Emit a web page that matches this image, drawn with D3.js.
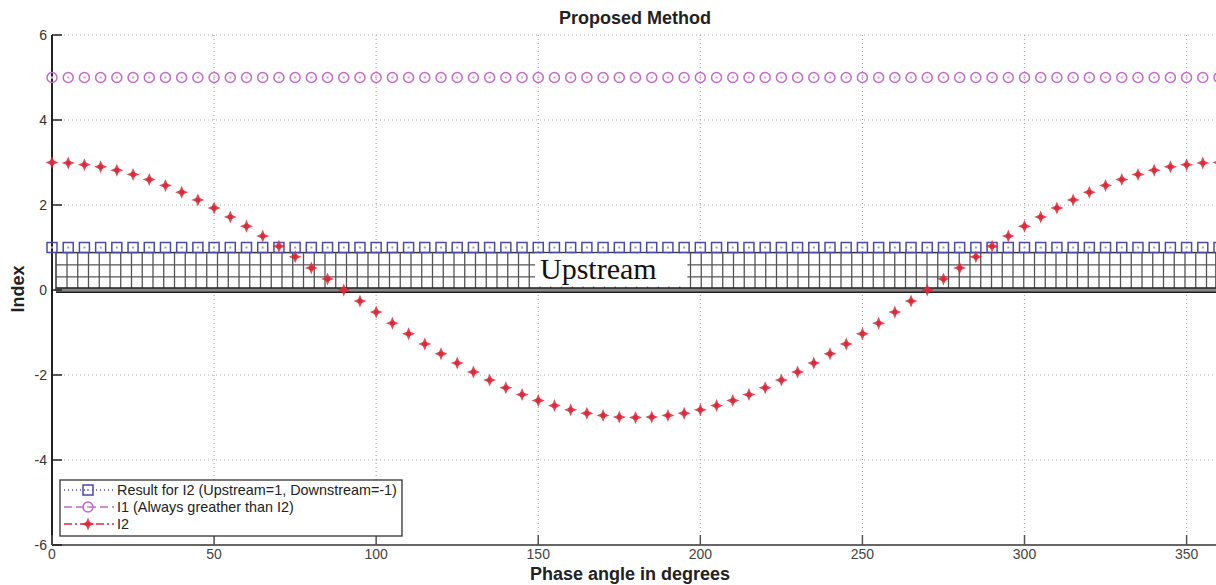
<!DOCTYPE html>
<html>
<head>
<meta charset="utf-8">
<script src="https://cdn.jsdelivr.net/npm/d3@7"></script>
<style>
  body { margin: 0; background: #fff; }
  text { font-family: Arial, "Liberation Sans", sans-serif; }
</style>
</head>
<body>
<script>
// phase angles (degrees)
var angles = [0,5,10,15,20,25,30,35,40,45,50,55,60,65,70,75,80,85,90,95,100,105,110,115,120,125,130,135,140,145,150,155,160,165,170,175,180,
  185,190,195,200,205,210,215,220,225,230,235,240,245,250,255,260,265,270,275,280,285,290,295,300,305,310,315,320,325,330,335,340,345,350,355,360]

// I2
var i2 = [3.00,2.99,2.95,2.90,2.82,2.72,2.60,2.46,2.30,2.12,1.93,1.72,1.50,1.27,1.03,0.78,0.52,0.26,0.00,-0.26,-0.52,-0.78,-1.03,-1.27,-1.50,-1.72,-1.93,-2.12,-2.30,-2.46,-2.60,-2.72,-2.82,-2.90,-2.95,-2.99,-3.00,
  -2.99,-2.95,-2.90,-2.82,-2.72,-2.60,-2.46,-2.30,-2.12,-1.93,-1.72,-1.50,-1.27,-1.03,-0.78,-0.52,-0.26,0.00,0.26,0.52,0.78,1.03,1.27,1.50,1.72,1.93,2.12,2.30,2.46,2.60,2.72,2.82,2.90,2.95,2.99,3.00]

// I1 (magenta circles) and result (blue squares)
var i1 = [5,5,5,5,5,5,5,5,5,5,5,5,5,5,5,5,5,5,5,5,5,5,5,5,5,5,5,5,5,5,5,5,5,5,5,5,5,
  5,5,5,5,5,5,5,5,5,5,5,5,5,5,5,5,5,5,5,5,5,5,5,5,5,5,5,5,5,5,5,5,5,5,5,5,5]
var result = [1,1,1,1,1,1,1,1,1,1,1,1,1,1,1,1,1,1,1,1,1,1,1,1,1,1,1,1,1,1,1,1,1,1,1,1,1,
  1,1,1,1,1,1,1,1,1,1,1,1,1,1,1,1,1,1,1,1,1,1,1,1,1,1,1,1,1,1,1,1,1,1,1,1,1]

var xTicks = [0,50,100,150,200,250,300,350]
var yTicks = [-6,-4,-2,0,2,4,6]
var legendLabels = ['Result for I2 (Upstream=1, Downstream=-1)', 'I1 (Always greather than I2)', 'I2']

var colors = { result: '#4b4ba3', i1: '#c46ac8', i2: '#dd2a3a' }

var svg = d3.select('body').append('svg')
    .attr('width', 1216).attr('height', 585)

var x = d3.scaleLinear().domain([0, 360]).range([52, 1219])
var y = d3.scaleLinear().domain([-6, 6]).range([545, 35])

// dotted grid
svg.append('g').selectAll('line').data(xTicks.slice(1)).enter().append('line')
    .attr('x1', function(d){return x(d)}).attr('x2', function(d){return x(d)})
    .attr('y1', y(6)).attr('y2', y(-6))
    .attr('stroke', '#aaa').attr('stroke-width', 1.2).attr('stroke-dasharray', '1,3')
svg.append('g').selectAll('line').data(yTicks.slice(1)).enter().append('line')
    .attr('x1', x(0)).attr('x2', x(360))
    .attr('y1', function(d){return y(d)}).attr('y2', function(d){return y(d)})
    .attr('stroke', '#aaa').attr('stroke-width', 1.2).attr('stroke-dasharray', '1,3')

// hatched "Upstream" band
var band = svg.append('g')
var bx0 = 56, bx1 = 1216
band.append('rect').attr('x', bx0).attr('y', y(0.88)).attr('width', bx1 - bx0).attr('height', y(0) - y(0.88))
    .attr('fill', '#fff').attr('stroke', '#333').attr('stroke-width', 1.5)
band.selectAll('.vh').data(d3.range(bx0 + 11, bx1, 10.75)).enter().append('line')
    .attr('class', 'vh')
    .attr('x1', function(d){return d}).attr('x2', function(d){return d})
    .attr('y1', y(0.88)).attr('y2', y(0))
    .attr('stroke', '#555').attr('stroke-width', 1.3)
band.selectAll('.hh').data([0.59, 0.31]).enter().append('line')
    .attr('class', 'hh')
    .attr('x1', bx0).attr('x2', bx1)
    .attr('y1', function(d){return y(d)}).attr('y2', function(d){return y(d)})
    .attr('stroke', '#555').attr('stroke-width', 1.3)
band.append('rect').attr('x', bx0).attr('y', y(0.05)).attr('width', bx1 - bx0).attr('height', y(-0.05) - y(0.05))
    .attr('fill', '#888')
band.selectAll('.hb').data([0.05, -0.05]).enter().append('line')
    .attr('class', 'hb')
    .attr('x1', bx0).attr('x2', bx1)
    .attr('y1', function(d){return y(d)}).attr('y2', function(d){return y(d)})
    .attr('stroke', '#222').attr('stroke-width', 1.5)
band.append('rect').attr('x', x(149)).attr('y', y(0.86)).attr('width', x(196) - x(149)).attr('height', y(0.08) - y(0.86))
    .attr('fill', '#fff')
band.append('text').attr('x', x(149) + 5).attr('y', 279)
    .style('font-family', '"Liberation Serif", "Times New Roman", serif')
    .style('font-size', '30px').attr('fill', '#111')
    .text('Upstream')

// axes lines and ticks
svg.append('line').attr('x1', x(0)).attr('x2', x(0)).attr('y1', y(6)).attr('y2', y(-6))
    .attr('stroke', '#222').attr('stroke-width', 2)
svg.append('line').attr('x1', x(0)).attr('x2', 1216).attr('y1', y(-6)).attr('y2', y(-6))
    .attr('stroke', '#666').attr('stroke-width', 2)
svg.append('g').selectAll('line').data(yTicks).enter().append('line')
    .attr('x1', x(0)).attr('x2', x(0) + 10)
    .attr('y1', function(d){return y(d)}).attr('y2', function(d){return y(d)})
    .attr('stroke', '#222').attr('stroke-width', 1.5)
svg.append('g').selectAll('line').data(xTicks).enter().append('line')
    .attr('x1', function(d){return x(d)}).attr('x2', function(d){return x(d)})
    .attr('y1', y(-6)).attr('y2', y(-6) - 10)
    .attr('stroke', '#555').attr('stroke-width', 1.5)

svg.append('g').selectAll('text').data(yTicks).enter().append('text')
    .attr('x', 47).attr('y', function(d){return y(d) + 5})
    .attr('text-anchor', 'end').attr('fill', '#333')
    .style('font-size', '14px')
    .text(function(d){return d})
svg.append('g').selectAll('text').data(xTicks).enter().append('text')
    .attr('x', function(d){return x(d)}).attr('y', 559)
    .attr('text-anchor', 'middle').attr('fill', '#444')
    .style('font-size', '14px')
    .text(function(d){return d})

// titles
svg.append('text').attr('x', 635).attr('y', 24).attr('text-anchor', 'middle')
    .style('font-size', '18px').style('font-weight', 'bold').attr('fill', '#222')
    .text('Proposed Method')
svg.append('text').attr('x', 630).attr('y', 580).attr('text-anchor', 'middle')
    .style('font-size', '18px').style('font-weight', 'bold').attr('fill', '#222')
    .text('Phase angle in degrees')
svg.append('text').attr('transform', 'translate(24,289) rotate(-90)').attr('text-anchor', 'middle')
    .style('font-size', '18px').style('font-weight', 'bold').attr('fill', '#222')
    .text('Index')

// markers
var star = 'M0,-6.5 L1.9,-1.9 L6.5,0 L1.9,1.9 L0,6.5 L-1.9,1.9 L-6.5,0 L-1.9,-1.9 Z'

var drawSquare = function(sel) {
  sel.append('rect').attr('x', -5).attr('y', -5).attr('width', 10).attr('height', 10)
      .attr('fill', 'none').attr('stroke', colors.result).attr('stroke-width', 1.5)
  sel.append('rect').attr('x', -1).attr('y', -1).attr('width', 2).attr('height', 2)
      .attr('fill', '#9a9acc')
}
var drawCircle = function(sel) {
  sel.append('circle').attr('r', 5)
      .attr('fill', 'none').attr('stroke', colors.i1).attr('stroke-width', 1.5)
  sel.append('circle').attr('r', 1.2).attr('fill', '#e0a8e0')
}
var drawStar = function(sel) {
  sel.append('path').attr('d', star).attr('fill', colors.i2).attr('opacity', 0.85)
  sel.append('circle').attr('r', 2.5).attr('fill', colors.i2)
}

svg.append('g').selectAll('g').data(angles).enter().append('g')
    .attr('transform', function(d, i){return 'translate(' + x(d) + ',' + y(i1[i]) + ')'})
    .call(drawCircle)
svg.append('g').selectAll('g').data(angles).enter().append('g')
    .attr('transform', function(d, i){return 'translate(' + x(d) + ',' + y(result[i]) + ')'})
    .call(drawSquare)
svg.append('g').selectAll('g').data(angles).enter().append('g')
    .attr('transform', function(d, i){return 'translate(' + x(d) + ',' + y(i2[i]) + ')'})
    .call(drawStar)

// legend
var legend = svg.append('g')
legend.append('rect').attr('x', 60).attr('y', 480).attr('width', 342).attr('height', 56)
    .attr('fill', '#fff').attr('stroke', '#333').attr('stroke-width', 1.3)

var legendDash = ['1,3', '8,4', '8,3,2,3']
var legendColor = [colors.result, colors.i1, colors.i2]
var legendDraw = [drawSquare, drawCircle, drawStar]
var rowY = [490, 507, 524]

legendLabels.forEach(function(label, i) {
  legend.append('line').attr('x1', 64).attr('x2', 114)
      .attr('y1', rowY[i]).attr('y2', rowY[i])
      .attr('stroke', legendColor[i]).attr('stroke-width', 1.3)
      .attr('stroke-dasharray', legendDash[i])
  legend.append('g').attr('transform', 'translate(88,' + rowY[i] + ')').call(legendDraw[i])
  legend.append('text').attr('x', 117).attr('y', rowY[i] + 5)
      .style('font-size', '14.4px').attr('fill', '#222')
      .text(label)
})
</script>
</body>
</html>
